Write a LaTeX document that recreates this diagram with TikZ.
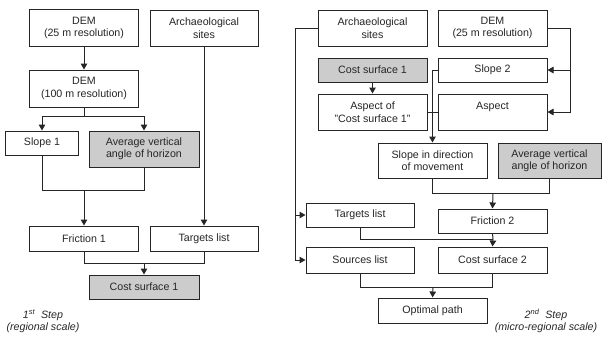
\documentclass[tikz,border=0pt]{standalone}
\usepackage{fontspec}
\setmainfont{Liberation Sans}
\usetikzlibrary{arrows.meta}
\begin{document}
\begin{tikzpicture}[x=1bp,y=-1bp,
  box/.style={draw=black!85, line width=1bp, fill=white, inner sep=0pt, align=center,
    text=black!85, font=\fontsize{10.7}{12.5}\selectfont},
  gbox/.style={box, fill=black!20},
  ln/.style={draw=black!85, line width=1bp},
  arr/.style={ln, -{Triangle[length=6bp,width=6.5bp]}},
  note/.style={align=center, text=black!85, font=\fontsize{10.7}{12.5}\selectfont\itshape}]
\useasboundingbox (0,0) rectangle (603,338);
% ---- left: 1st step ----
\node[box, minimum width=108bp, minimum height=37bp] (dem25) at (84,28) {DEM\\(25 m resolution)};
\node[box, minimum width=108bp, minimum height=36bp] (arch1) at (204,28) {Archaeological\\sites};
\node[box, minimum width=108bp, minimum height=37bp] (dem100) at (84,88.5) {DEM\\(100 m resolution)};
\node[box, minimum width=72bp, minimum height=24bp] (slope1) at (42,143) {Slope 1};
\node[gbox, minimum width=110bp, minimum height=36bp] (avg1) at (144,149) {Average vertical\\angle of horizon};
\node[box, minimum width=108bp, minimum height=25bp] (fric1) at (84,238.5) {Friction 1};
\node[box, minimum width=108bp, minimum height=25bp] (targ1) at (204,238.5) {Targets list};
\node[gbox, minimum width=110bp, minimum height=24bp] (cost1) at (144,287) {Cost surface 1};
\node[note] (step1) at (43,321) {1\textsuperscript{st}\ \ Step\\(regional scale)};
\coordinate (j1) at (84,116);
\coordinate (j2) at (84,190);
\coordinate (j3) at (144,263);
\draw[arr] (dem25) -- (dem100);
\draw[ln] (dem100) -- (j1);
\draw[arr] (j1) -| (slope1.north);
\draw[arr] (j1) -| (avg1.north);
\draw[ln] (slope1.south) |- (j2);
\draw[ln] (avg1.south) |- (j2);
\draw[arr] (j2) -- (fric1.north);
\draw[arr] (arch1) -- (targ1);
\draw[ln] (fric1.south) |- (j3);
\draw[ln] (targ1.south) |- (j3);
\draw[arr] (j3) -- (cost1.north);
% ---- right: 2nd step ----
\node[box, minimum width=109bp, minimum height=36bp] (arch2) at (372.5,28) {Archaeological\\sites};
\node[box, minimum width=109bp, minimum height=36bp] (dem2) at (492.5,28) {DEM\\(25 m resolution)};
\node[gbox, minimum width=109bp, minimum height=24bp] (cs1b) at (372.5,70) {Cost surface 1};
\node[box, minimum width=109bp, minimum height=24bp] (slope2) at (492.5,70) {Slope 2};
\node[box, minimum width=109bp, minimum height=36bp] (aspof) at (372.5,112) {Aspect of\\"Cost surface 1"};
\node[box, minimum width=109bp, minimum height=36bp] (asp) at (492.5,112) {Aspect\\\mbox{}};
\node[box, minimum width=109bp, minimum height=35bp] (sdir) at (432.5,160.5) {Slope in direction\\of movement};
\node[gbox, minimum width=103bp, minimum height=35bp] (avg2) at (549.5,160.5) {Average vertical\\angle of horizon};
\node[box, minimum width=109bp, minimum height=24bp] (fric2) at (492.5,221) {Friction 2};
\node[box, minimum width=108bp, minimum height=24bp] (targ2) at (360,215) {Targets list};
\node[box, minimum width=108bp, minimum height=26bp] (src) at (360,260) {Sources list};
\node[box, minimum width=109bp, minimum height=26bp] (cs2) at (492.5,260) {Cost surface 2};
\node[box, minimum width=109bp, minimum height=25bp] (opt) at (432.5,310.5) {Optimal path};
\node[note] (step2) at (546,321) {2\textsuperscript{nd}\ \ Step\\(micro-regional scale)};
\coordinate (lft) at (295,28);
\coordinate (rgt) at (570,28);
\coordinate (k1) at (493,193);
\coordinate (k2) at (493,239);
\coordinate (k3) at (433,287);
\draw[ln] (arch2.west) -- (lft);
\draw[arr] (lft) |- (src.west);
\draw[arr] (lft |- targ2.west) -- (targ2.west);
\draw[ln] (dem2.east) -- (rgt);
\draw[arr] (rgt) |- (asp.east);
\draw[arr] (rgt |- slope2.east) -- (slope2.east);
\draw[arr] (cs1b) -- (aspof);
\draw[ln] (aspof.east) -- (asp.west);
\draw[arr] (slope2.west) -| (sdir.north);
\draw[ln] (sdir.south) |- (k1);
\draw[ln] (avg2.south) |- (k1);
\draw[arr] (k1) -- (fric2.north);
\draw[ln] (fric2.south) -- (k2);
\draw[ln] (targ2.south) |- (k2);
\draw[arr] (k2) -- (cs2.north);
\draw[ln] (src.south) |- (k3);
\draw[ln] (cs2.south) |- (k3);
\draw[arr] (k3) -- (opt.north);
\end{tikzpicture}
\end{document}
